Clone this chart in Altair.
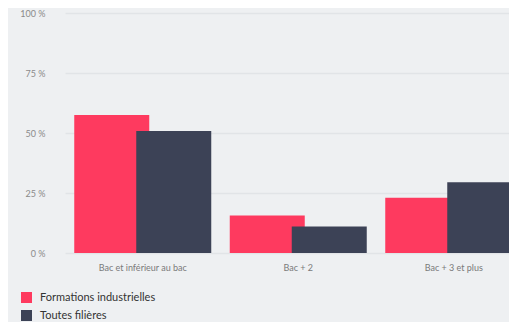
import altair as alt
import pandas as pd

categories = ["Bac et inférieur au bac", "Bac + 2", "Bac + 3 et plus"]
series = ["Formations industrielles", "Toutes filières"]
industrielles = [57.5, 15.6, 23.0]
toutes = [50.8, 11.0, 29.5]
y_ticks = [0, 25, 50, 75, 100]
colors = ["#fe3a5f", "#3c4256"]

rows = []
for c, a, b in zip(categories, industrielles, toutes):
    rows.append({"cat": c, "series": series[0], "value": a})
    rows.append({"cat": c, "series": series[1], "value": b})
df = pd.DataFrame(rows)

FONT = "Lato"

x = alt.X(
    "cat:N",
    sort=categories,
    title=None,
    scale=alt.Scale(range=[-3, 463.5], paddingInner=0, paddingOuter=0),
    axis=alt.Axis(labelAngle=0, ticks=False, domain=False, labelPadding=10,
                  labelFontSize=9, labelColor="#7a7a7a", labelFont=FONT, grid=False),
)
y = alt.Y(
    "value:Q",
    title=None,
    scale=alt.Scale(domain=[0, 100], nice=False),
    axis=alt.Axis(values=y_ticks, labelExpr="datum.value + ' %'", ticks=False, domain=False,
                  labelPadding=23, labelFontSize=9, labelColor="#8a8a8a", labelFont=FONT,
                  gridColor="#e1e4e7", gridWidth=1.5),
)
color = alt.Color(
    "series:N",
    scale=alt.Scale(domain=series, range=colors),
    legend=alt.Legend(title=None, orient="none", legendX=-47, legendY=279,
                      symbolType="square", symbolSize=121, symbolStrokeWidth=0,
                      labelFontSize=11, labelFont=FONT, labelColor="#333333",
                      rowPadding=6, labelOffset=8, padding=0, direction="vertical"),
)

base = alt.Chart(df).encode(x=x, y=y, color=color)
pink = base.transform_filter(alt.datum.series == series[0]).mark_bar(width=75, xOffset=-31)
dark = base.transform_filter(alt.datum.series == series[1]).mark_bar(width=75, xOffset=31)

chart = (
    alt.layer(pink, dark)
    .properties(
        width=441,
        height=240,
        background="#eef0f2",
        padding={"left": 60, "top": 5, "right": 0, "bottom": 69},
        autosize=alt.AutoSizeParams(type="none"),
    )
    .configure_view(stroke=None)
)

chart.save("out.html", embed_options={"renderer": "svg", "actions": False})
